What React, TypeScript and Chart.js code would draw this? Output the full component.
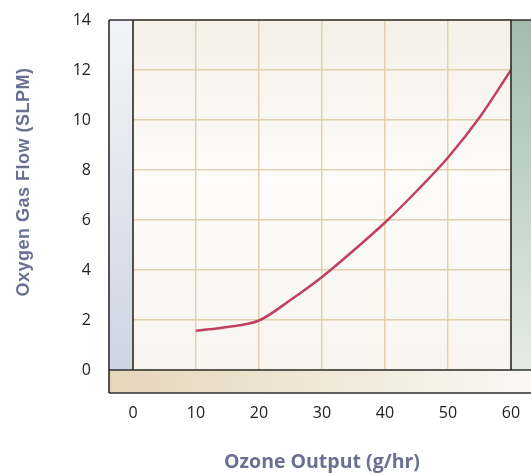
import React, { useEffect, useRef } from "react";
import { Chart, registerables } from "chart.js";

Chart.register(...registerables);

const ozoneOutput = [10, 15, 20, 25, 30, 35, 40, 45, 50, 55, 60];
const oxygenFlow = [1.57, 1.72, 1.98, 2.8, 3.72, 4.78, 5.9, 7.15, 8.5, 10.1, 12];
const xTitle = "Ozone Output (g/hr)";
const yTitle = "Oxygen Gas Flow (SLPM)";

const FONT = "'Open Sans', 'Noto Sans', sans-serif";
const YFONT = "'Liberation Sans', Arial, sans-serif";

const framePlugin = {
  id: "frame",
  beforeDraw(chart: any) {
    const { ctx, chartArea } = chart;
    const { left, right, top, bottom } = chartArea;
    const barW = 24;
    const barH = 23;
    ctx.save();
    let g = ctx.createLinearGradient(0, top, 0, bottom);
    g.addColorStop(0, "#f5f0e7");
    g.addColorStop(0.45, "#fdfcfa");
    g.addColorStop(1, "#f8f5ef");
    ctx.fillStyle = g;
    ctx.fillRect(left, top, right - left, bottom - top);
    g = ctx.createLinearGradient(0, top, 0, bottom);
    g.addColorStop(0, "#f3f4f8");
    g.addColorStop(1, "#cdd5e3");
    ctx.fillStyle = g;
    ctx.fillRect(left - barW, top, barW, bottom - top);
    g = ctx.createLinearGradient(0, top, 0, bottom);
    g.addColorStop(0, "#a1bcad");
    g.addColorStop(1, "#e4ece6");
    ctx.fillStyle = g;
    ctx.fillRect(right, top, chart.width - right, bottom - top);
    g = ctx.createLinearGradient(left - barW, 0, chart.width, 0);
    g.addColorStop(0, "#e5d6bb");
    g.addColorStop(1, "#faf8f3");
    ctx.fillStyle = g;
    ctx.fillRect(left - barW, bottom, chart.width - (left - barW), barH);
    ctx.restore();
  },
  afterDraw(chart: any) {
    const { ctx, chartArea } = chart;
    const { left, right, top, bottom } = chartArea;
    const barW = 24;
    const barH = 23;
    const x0 = left - barW;
    ctx.save();
    ctx.strokeStyle = "#2e2e2e";
    ctx.lineWidth = 1.6;
    ctx.beginPath();
    ctx.moveTo(x0, top);
    ctx.lineTo(chart.width, top);
    ctx.moveTo(x0, top);
    ctx.lineTo(x0, bottom + barH);
    ctx.moveTo(left, top);
    ctx.lineTo(left, bottom);
    ctx.moveTo(right, top);
    ctx.lineTo(right, bottom);
    ctx.moveTo(x0, bottom);
    ctx.lineTo(chart.width, bottom);
    ctx.moveTo(x0, bottom + barH);
    ctx.lineTo(chart.width, bottom + barH);
    ctx.stroke();

    ctx.fillStyle = "#6a7092";
    ctx.textAlign = "center";
    ctx.textBaseline = "middle";
    ctx.font = `bold 19.5px ${FONT}`;
    ctx.fillText(xTitle, (left + right) / 2, 462);
    ctx.font = `bold 18px ${YFONT}`;
    (ctx as any).letterSpacing = "0.5px";
    ctx.translate(24, 182);
    ctx.rotate(-Math.PI / 2);
    ctx.fillText(yTitle, 0, 0);
    ctx.restore();
  },
};

export default function App() {
  const ref = useRef<HTMLCanvasElement | null>(null);
  useEffect(() => {
    if (!ref.current) return;
    const chart = new Chart(ref.current, {
      type: "line",
      data: {
        datasets: [
          {
            data: ozoneOutput.map((x, i) => ({ x, y: oxygenFlow[i] })),
            borderColor: "#c0405f",
            borderWidth: 2.5,
            pointRadius: 0,
            fill: false,
            cubicInterpolationMode: "monotone",
          },
        ],
      },
      options: {
        responsive: false,
        animation: false,
        layout: { padding: { top: 20, right: 20, left: 0, bottom: 0 } },
        plugins: { legend: { display: false }, tooltip: { enabled: false } },
        scales: {
          x: {
            type: "linear",
            min: 0,
            max: 60,
            border: { display: false },
            grid: { color: "#e2d0ae", lineWidth: 1.5, drawTicks: false },
            ticks: {
              stepSize: 10,
              padding: 34,
              color: "#222",
              font: { size: 16, family: FONT },
            },
            afterFit: (s: any) => {
              s.height = 104;
              s.paddingLeft = 0;
              s.paddingRight = 0;
            },
          },
          y: {
            type: "linear",
            min: 0,
            max: 14,
            border: { display: false },
            grid: { color: "#e2d0ae", lineWidth: 1.5, drawTicks: false },
            ticks: {
              stepSize: 2,
              padding: 42,
              color: "#222",
              font: { size: 16, family: FONT },
            },
            afterFit: (s: any) => {
              s.width = 133;
              s.paddingTop = 0;
              s.paddingBottom = 0;
            },
          },
        },
      },
      plugins: [framePlugin],
    } as any);
    return () => chart.destroy();
  }, []);
  return (
    <div style={{ position: "absolute", left: 0, top: 0, width: 531, height: 474 }}>
      <canvas ref={ref} width={531} height={474} style={{ width: 531, height: 474 }} />
    </div>
  );
}
